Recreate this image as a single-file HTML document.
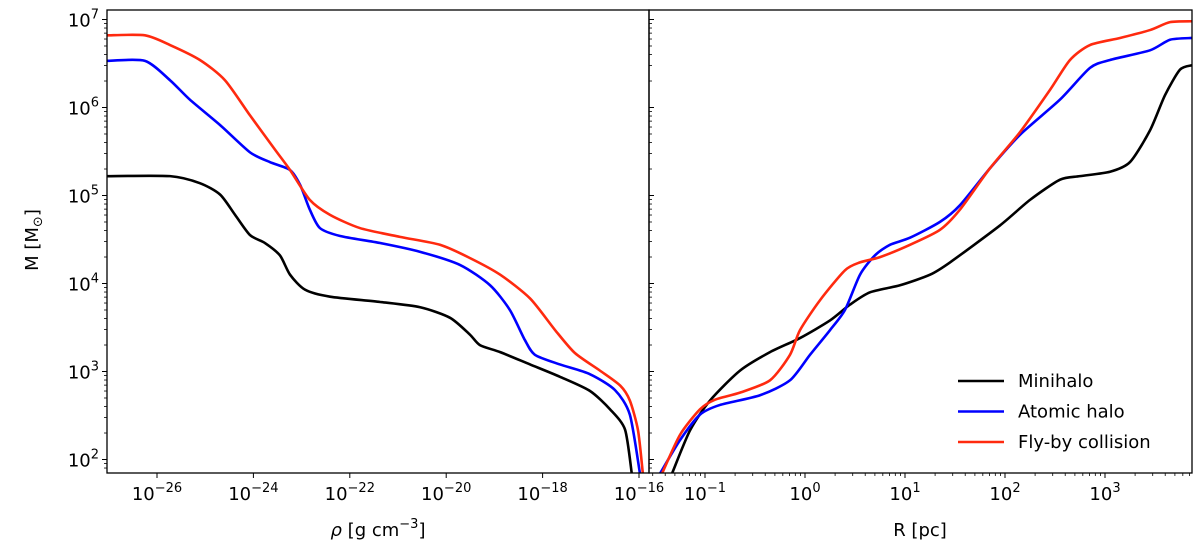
<!DOCTYPE html>
<html><head><meta charset="utf-8"><style>
body{margin:0;background:#fff;}
svg{display:block;font-family:"DejaVu Sans","Liberation Sans",sans-serif;}
</style></head><body>
<svg id="c" width="1200" height="544" xmlns="http://www.w3.org/2000/svg"></svg>
<script>
// log10 values
const rhoBlackX=[-27.04,-25.73,-25.11,-24.69,-24.38,-24.07,-23.76,-23.45,-23.24,-22.93,-22.41,-21.37,-20.54,-19.92,-19.51,-19.30,-18.88,-18.26,-17.64,-17.02,-16.60,-16.29,-16.15];
const rhoBlackY=[5.22,5.22,5.14,5.01,4.78,4.55,4.46,4.32,4.10,3.93,3.85,3.79,3.73,3.61,3.42,3.30,3.22,3.08,2.94,2.78,2.57,2.34,1.84];
const rhoBlueX=[-27.04,-26.25,-25.73,-25.32,-24.69,-24.07,-23.66,-23.24,-23.03,-22.83,-22.62,-22.20,-21.37,-20.54,-19.71,-19.09,-18.68,-18.37,-18.16,-17.64,-17.02,-16.50,-16.19,-15.98];
const rhoBlueY=[6.53,6.53,6.31,6.09,5.80,5.49,5.38,5.29,5.12,4.84,4.63,4.54,4.46,4.36,4.21,3.98,3.70,3.36,3.19,3.08,2.97,2.79,2.51,1.84];
const rhoRedX=[-27.04,-26.25,-25.73,-25.11,-24.59,-24.07,-23.55,-23.24,-22.83,-22.41,-21.79,-20.96,-20.13,-19.51,-18.88,-18.26,-17.74,-17.33,-16.81,-16.39,-16.19,-16.02,-15.92];
const rhoRedY=[6.82,6.82,6.71,6.54,6.31,5.91,5.52,5.29,4.95,4.78,4.63,4.53,4.44,4.29,4.10,3.83,3.47,3.21,3.01,2.84,2.67,2.33,1.84];
const rBlackX=[-1.33,-1.15,-0.95,-0.65,-0.35,-0.05,0.25,0.45,0.65,0.95,1.25,1.45,1.95,2.25,2.55,2.75,3.05,3.25,3.45,3.60,3.75,3.87];
const rBlackY=[1.84,2.33,2.67,3.01,3.22,3.38,3.58,3.76,3.90,3.98,4.10,4.24,4.66,4.95,5.18,5.22,5.27,5.38,5.74,6.14,6.43,6.48];
const rBlueX=[-1.45,-1.25,-1.05,-0.85,-0.45,-0.15,0.05,0.25,0.40,0.55,0.70,0.85,1.05,1.35,1.55,1.85,2.15,2.55,2.85,3.05,3.45,3.65,3.87];
const rBlueY=[1.84,2.22,2.51,2.62,2.73,2.90,3.19,3.47,3.70,4.10,4.32,4.44,4.52,4.70,4.89,5.31,5.69,6.09,6.45,6.54,6.65,6.77,6.79];
const rRedX=[-1.43,-1.25,-1.05,-0.90,-0.65,-0.35,-0.15,-0.05,0.15,0.40,0.55,0.75,1.05,1.35,1.55,1.85,2.15,2.45,2.65,2.85,3.15,3.45,3.65,3.87];
const rRedY=[1.84,2.28,2.57,2.68,2.76,2.90,3.19,3.47,3.81,4.15,4.24,4.30,4.44,4.61,4.84,5.31,5.72,6.20,6.54,6.71,6.79,6.88,6.97,6.98];
const leftTicks=[-26,-24,-22,-20,-18,-16];
const rightTicks=[-1,0,1,2,3];
const yTicks=[2,3,4,5,6,7];
const legendLabels=["Minihalo","Atomic halo","Fly-by collision"];

const NS="http://www.w3.org/2000/svg";
const svg=document.getElementById('c');
function mk(t,a,p){const e=document.createElementNS(NS,t);for(const k in a)e.setAttribute(k,a[k]);(p||svg).appendChild(e);return e;}
const T=10,B=473,L1=107,R1=649,L2=649,R2=1192;
const yS=v=>19.5+(7-v)*88;
const xL=v=>157+(v+26)*48.2;
const xR=v=>705+(v+1)*100;

const defs=mk('defs',{});
const c1=mk('clipPath',{id:'cl1'},defs);mk('rect',{x:L1,y:T,width:R1-L1,height:B-T},c1);
const c2=mk('clipPath',{id:'cl2'},defs);mk('rect',{x:L2,y:T,width:R2-L2,height:B-T},c2);

function line(xs,ys,xf,color,clip,name){
  const pts=xs.map((x,i)=>[xf(x),yS(ys[i])]);
  let d='M'+pts[0][0]+','+pts[0][1];
  const k=8;
  for(let i=0;i<pts.length-1;i++){
    const p0=pts[i-1]||pts[i],p1=pts[i],p2=pts[i+1],p3=pts[i+2]||p2;
    d+=` C${p1[0]+(p2[0]-p0[0])/k},${p1[1]+(p2[1]-p0[1])/k} ${p2[0]-(p3[0]-p1[0])/k},${p2[1]-(p3[1]-p1[1])/k} ${p2[0]},${p2[1]}`;
  }
  const e=mk('path',{d:d,fill:'none',stroke:color,'stroke-width':2.6,'stroke-linejoin':'round','clip-path':'url(#'+clip+')'});
  
  
}
line(rhoBlackX,rhoBlackY,xL,'#000','cl1','minihalo-rho-line');
line(rhoBlueX,rhoBlueY,xL,'#0000ff','cl1','atomic-rho-line');
line(rhoRedX,rhoRedY,xL,'#ff2a0f','cl1','flyby-rho-line');
line(rBlackX,rBlackY,xR,'#000','cl2','minihalo-r-line');
line(rBlueX,rBlueY,xR,'#0000ff','cl2','atomic-r-line');
line(rRedX,rRedY,xR,'#ff2a0f','cl2','flyby-r-line');

const f1=mk('rect',{x:L1,y:T,width:R1-L1,height:B-T,fill:'none',stroke:'#000','stroke-width':1.3});

const f2=mk('rect',{x:L2,y:T,width:R2-L2,height:B-T,fill:'none',stroke:'#000','stroke-width':1.3});


yTicks.forEach(v=>{
  const y=yS(v);
  mk('line',{x1:L1-5,x2:L1,y1:y,y2:y,stroke:'#000','stroke-width':1});
  mk('line',{x1:L2,x2:L2+5,y1:y,y2:y,stroke:'#000','stroke-width':1});
  const t=mk('text',{x:L1-8,y:y+7,'text-anchor':'end','font-size':18});
  t.innerHTML='10<tspan dy="-8" font-size="13">'+v+'</tspan>';
  
});
for(let d=1;d<8;d++)for(let m=2;m<10;m++){const y=yS(d+Math.log10(m));if(y<T||y>B)continue;
  mk('line',{x1:L1-3,x2:L1,y1:y,y2:y,stroke:'#000','stroke-width':0.8});
  mk('line',{x1:L2,x2:L2+3,y1:y,y2:y,stroke:'#000','stroke-width':0.8});}
leftTicks.forEach(v=>{const x=xL(v);
  mk('line',{x1:x,x2:x,y1:B,y2:B+5,stroke:'#000','stroke-width':1});
  const t=mk('text',{x:x,y:B+27,'text-anchor':'middle','font-size':18});
  t.innerHTML='10<tspan dy="-8" font-size="13">−'+(-v)+'</tspan>';
  });
rightTicks.forEach(v=>{const x=xR(v);
  mk('line',{x1:x,x2:x,y1:B,y2:B+5,stroke:'#000','stroke-width':1});
  const t=mk('text',{x:x,y:B+27,'text-anchor':'middle','font-size':18});
  t.innerHTML='10<tspan dy="-8" font-size="13">'+(v<0?'−'+(-v):v)+'</tspan>';
  });
for(let d=-2;d<4;d++)for(let m=2;m<10;m++){const x=xR(d+Math.log10(m));if(x<L2||x>R2)continue;
  mk('line',{x1:x,x2:x,y1:B,y2:B+3,stroke:'#000','stroke-width':0.8});}

let t=mk('text',{x:378,y:536,'text-anchor':'middle','font-size':18});
t.innerHTML='<tspan font-style="italic">ρ</tspan> [g cm<tspan dy="-8" font-size="13">−3</tspan><tspan dy="8">]</tspan>';

t=mk('text',{x:920,y:536,'text-anchor':'middle','font-size':18});t.textContent='R [pc]';

t=mk('text',{x:0,y:0,'text-anchor':'middle','font-size':18,transform:'translate(38,240) rotate(-90)'});
t.innerHTML='M [M<tspan dy="4" font-size="13">⊙</tspan><tspan dy="-4">]</tspan>';


const cols=['#000','#0000ff','#ff2a0f'];
legendLabels.forEach((s,i)=>{const y=381+i*30.5;
  const g=mk('g',{});
  
  mk('line',{x1:958,x2:1004,y1:y,y2:y,stroke:cols[i],'stroke-width':2.6},g);
  const tt=mk('text',{x:1018,y:y+6,'font-size':18},g);tt.textContent=s;});
</script>
</body></html>
